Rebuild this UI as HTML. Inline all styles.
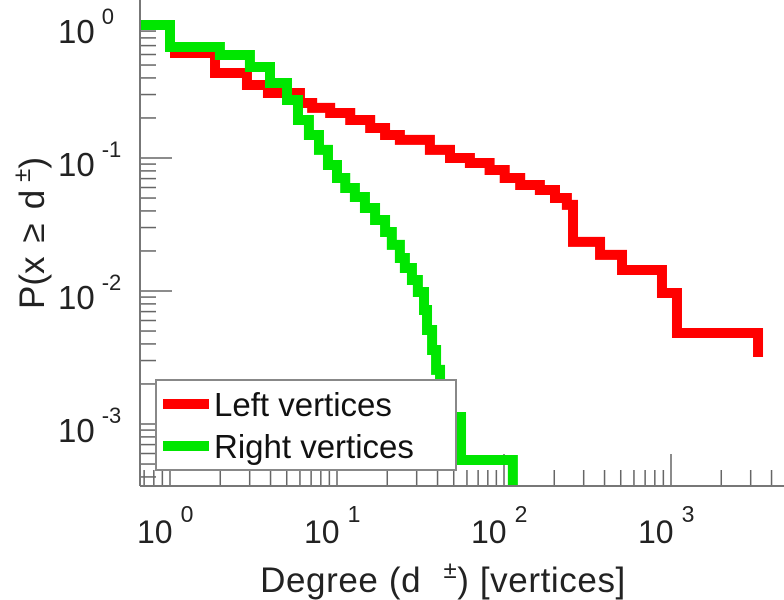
<!DOCTYPE html>
<html><head><meta charset="utf-8"><style>
html,body{margin:0;padding:0;background:#fff;}
svg{display:block;font-family:"Liberation Sans",sans-serif;}
</style></head><body>
<svg id="chart" width="784" height="600" viewBox="0 0 784 600">
<defs><clipPath id="plotclip"><rect x="140" y="0" width="644" height="486"/></clipPath></defs>
<g id="grid-ticks"></g>
<g id="series" clip-path="url(#plotclip)"></g>
<g id="axes"></g>
<g id="labels"></g>
<text x="443" y="592" font-size="35" letter-spacing="0.6" text-anchor="middle" fill="#222">Degree (d <tspan dx="12" dy="-14" font-size="24">±</tspan><tspan dy="14">) [vertices]</tspan></text>
<text transform="translate(44,233) rotate(-90)" font-size="35" text-anchor="middle" fill="#222">P(x<tspan dx="14">≥</tspan><tspan dx="14">d</tspan><tspan dx="8" dy="-14" font-size="24">±</tspan><tspan dy="14">)</tspan></text>
<g>
<rect x="156" y="380" width="300" height="90" fill="#fff" stroke="#888" stroke-width="2"/>
<line x1="163" y1="404" x2="209" y2="404" stroke="#ff0000" stroke-width="10"/>
<text x="214" y="416" font-size="33" fill="#111">Left vertices</text>
<line x1="163" y1="446" x2="209" y2="446" stroke="#00e600" stroke-width="10"/>
<text x="214" y="458" font-size="33" fill="#111">Right vertices</text>
</g>
</svg>
<script>
const redX = [1,1.86,2.89,3.86,6.0,7.1,9.1,12,15.8,19.4,23.8,36,47.5,62.5,82,101,125,164,202,238,259,376,509,883,1086,3320];
const redY = [0.616,0.436,0.354,0.308,0.259,0.238,0.218,0.193,0.168,0.149,0.137,0.115,0.1,0.0917,0.0813,0.0708,0.0627,0.0575,0.05,0.0444,0.0234,0.0187,0.0144,0.00966,0.00483,0.00319];
const greenX = [0.67,1,1.99,3.01,3.97,5.02,5.84,6.79,7.8,8.83,10,11.2,12.8,14.7,16.9,19.4,21.3,23.8,25.5,28.1,30.5,33.2,34.6,37.1,39.2,41.4,55.3,113];
const greenY = [1,0.683,0.595,0.483,0.366,0.273,0.193,0.149,0.115,0.0886,0.0708,0.0595,0.0509,0.0421,0.0342,0.0278,0.0222,0.0177,0.0149,0.0121,0.00983,0.00719,0.00509,0.0036,0.00255,0.00113,0.000536,0.0002];
const xTickExps = [0,1,2,3];
const yTickExps = [0,-1,-2,-3];
const xTickLabels = ["0","1","2","3"];
const yTickLabels = ["0","-1","-2","-3"];

const NS = "http://www.w3.org/2000/svg";
const X0 = 170, XD = 167, Y0 = 25, YD = 133;
const LEFT = 140, BOTTOM = 486, RIGHT = 784;
function sx(v){ return X0 + Math.log10(v) * XD; }
function sy(v){ return Y0 - Math.log10(v) * YD; }
function mk(tag, attrs, parent){
  const e = document.createElementNS(NS, tag);
  for (const k in attrs) e.setAttribute(k, attrs[k]);
  parent.appendChild(e); return e;
}
function stairs(xs, ys){
  let d = "M" + sx(xs[0]) + "," + sy(ys[0]);
  for (let i = 1; i < xs.length; i++) d += " H" + sx(xs[i]) + " V" + sy(ys[i]);
  return d;
}
const series = document.getElementById("series");
const r = mk("path", {d: stairs(redX, redY), fill: "none", stroke: "#ff0000", "stroke-width": 10, "stroke-linejoin": "miter", "stroke-linecap": "butt"}, series);


const g = mk("path", {d: stairs(greenX, greenY), fill: "none", stroke: "#00e600", "stroke-width": 10, "stroke-linejoin": "miter", "stroke-linecap": "butt"}, series);



const ticks = document.getElementById("grid-ticks");
for (let e = -1; e <= 3; e++) {
  for (let m = 1; m <= 9; m++) {
    const v = m * Math.pow(10, e);
    const px = sx(v);
    if (px < LEFT + 2 || px > RIGHT) continue;
    const len = m === 1 ? 32 : 16;
    const t = mk("line", {x1: px, y1: BOTTOM, x2: px, y2: BOTTOM - len, stroke: "#666", "stroke-width": 1.5}, ticks);
    
    
  }
}
for (let e = -4; e <= 0; e++) {
  for (let m = 1; m <= 9; m++) {
    const v = m * Math.pow(10, e);
    const py = sy(v);
    if (py > BOTTOM - 2 || py < 0) continue;
    const len = m === 1 ? 32 : 16;
    const t = mk("line", {x1: LEFT, y1: py, x2: LEFT + len, y2: py, stroke: "#666", "stroke-width": 1.5}, ticks);
    
    
  }
}
const axes = document.getElementById("axes");
const ay = mk("line", {x1: LEFT, y1: 0, x2: LEFT, y2: BOTTOM, stroke: "#777", "stroke-width": 2}, axes);


const ax = mk("line", {x1: LEFT, y1: BOTTOM, x2: RIGHT, y2: BOTTOM, stroke: "#777", "stroke-width": 2}, axes);



const labels = document.getElementById("labels");
xTickExps.forEach((e, i) => {
  const px = sx(Math.pow(10, e));
  const t = mk("text", {x: px - 33, y: 543, "font-size": 32, fill: "#222"}, labels);
  
  
  t.textContent = "10";
  const s = mk("tspan", {dx: 8, dy: -21, "font-size": 23}, t);
  s.textContent = xTickLabels[i];
});
yTickExps.forEach((e, i) => {
  const py = sy(Math.pow(10, e));
  const t = mk("text", {x: 58, y: py + 18, "font-size": 33, fill: "#222"}, labels);
  
  
  t.textContent = "10";
  const s = mk("tspan", {dx: 7, dy: -19, "font-size": 22}, t);
  s.textContent = yTickLabels[i];
});
</script>
</body></html>
